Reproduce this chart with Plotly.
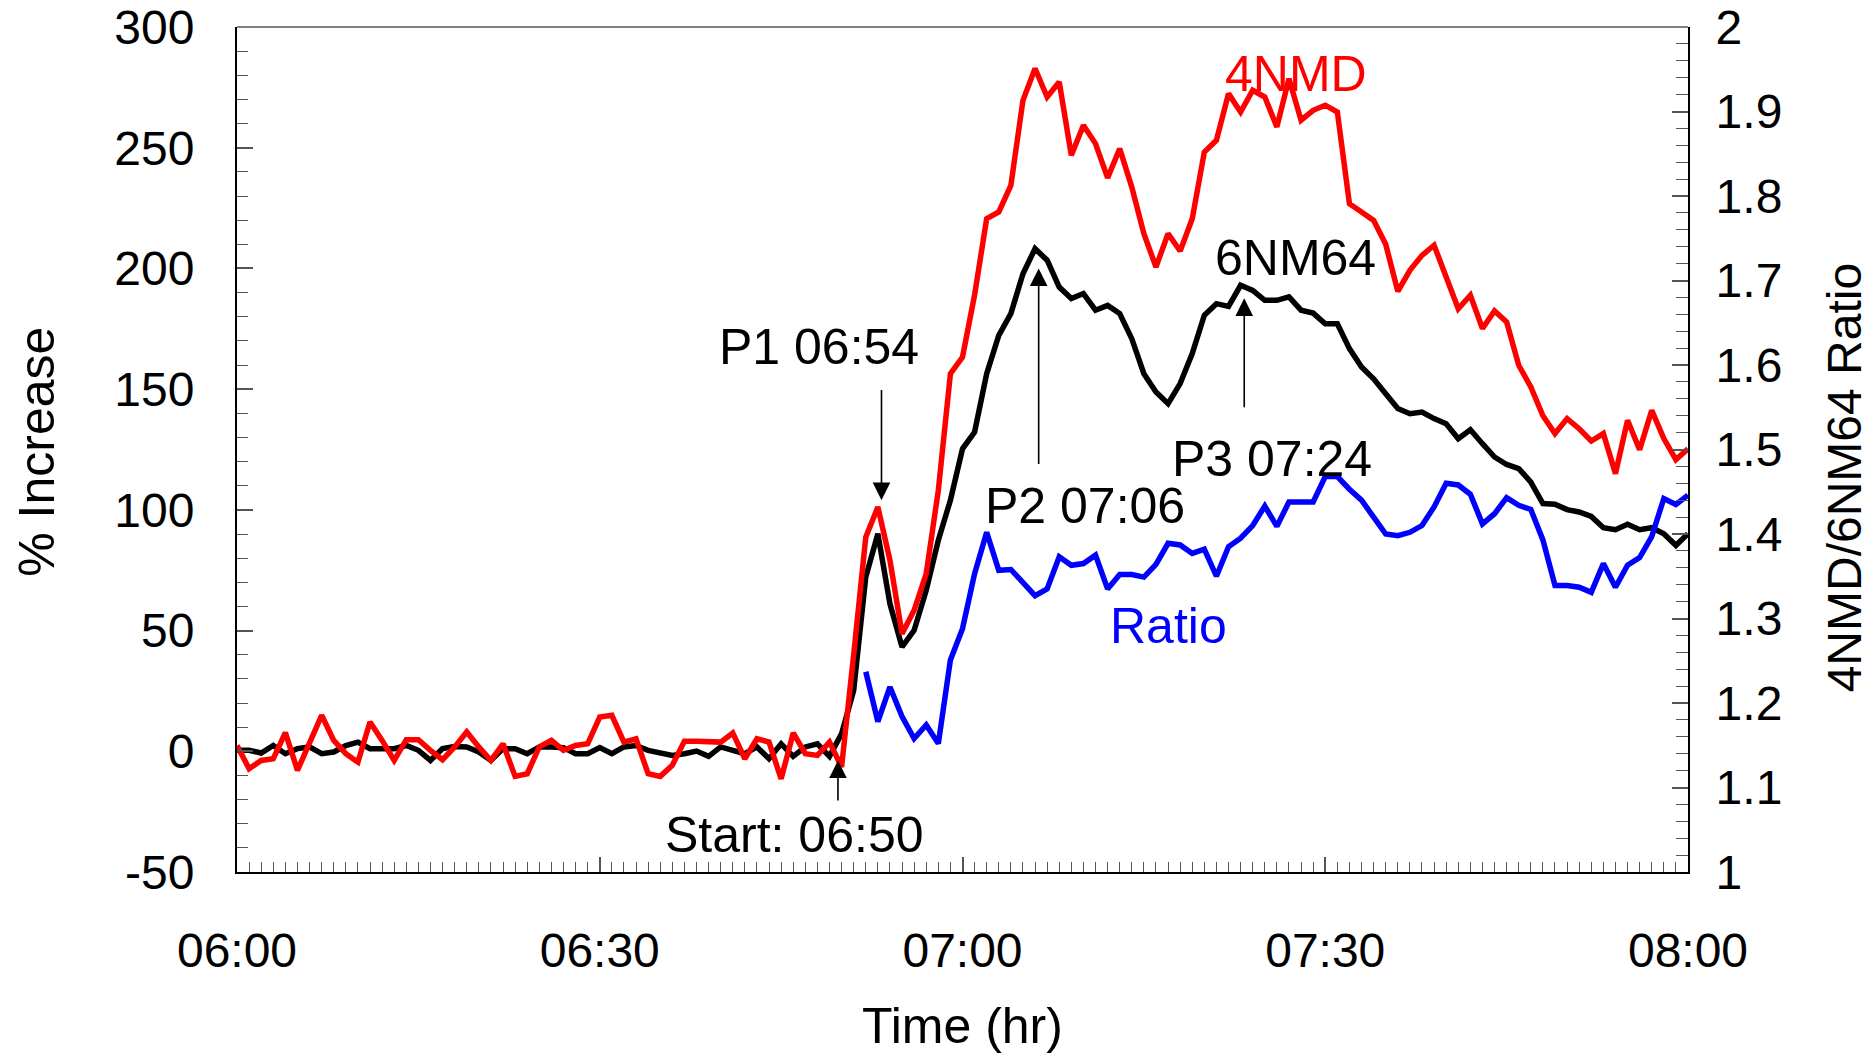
import pandas as pd
import plotly.graph_objects as go

# ---- data (one reading per minute, 06:00 - 08:00) ----
start_time = pd.Timestamp("2000-01-01 06:00")
times = [start_time + pd.Timedelta(minutes=m) for m in range(121)]

# 6NM64 % increase
nm64 = [
    0.4, 0.4, -0.7, 2.4, -1.0, 1.1, 1.8, -1.0, -0.3, 2.4,
    3.8, 1.1, 1.1, 1.1, 2.4, 0.4, -3.8, 1.1, 2.0, 1.8,
    -0.3, -3.8, 1.1, 1.1, -1.0, 1.8, 1.8, 1.5, -1.0, -1.0,
    1.5, -1.0, 1.8, 2.4, 0.4, -0.7, -1.7, -1.0, 0.1, -2.1,
    1.8, 0.4, -1.0, 1.8, -3.1, 3.1, -2.1, 1.8, 3.1, -2.1,
    7.3, 25.2, 72.2, 90.1, 61.1, 43.2, 50.1, 66.7, 87.4, 104.0,
    125.3, 132.2, 156.4, 172.3, 181.3, 197.8, 208.2, 203.4, 192.3, 187.5,
    189.6, 182.7, 184.7, 181.3, 170.9, 156.4, 148.8, 144.0, 152.3, 164.7,
    180.6, 185.4, 184.3, 193.0, 190.9, 186.8, 186.8, 188.2, 182.7, 181.5,
    177.1, 177.1, 166.8, 159.2, 154.3, 148.1, 142.0, 139.8, 140.5, 137.8,
    135.7, 129.5, 133.2, 127.4, 121.9, 118.8, 117.1, 111.5, 102.6, 102.3,
    100.1, 99.1, 97.3, 92.6, 91.8, 94.0, 91.8, 92.6, 90.1, 85.3,
    90.1,
]

# 4NMD % increase
nmd4 = [
    2.4, -7.2, -3.8, -3.1, 7.7, -7.9, 3.5, 14.9, 4.5, -1.0,
    -4.5, 12.1, 4.5, -3.8, 4.8, 4.8, 0.4, -3.5, 1.8, 8.0,
    1.8, -3.8, 3.1, -10.4, -9.3, 1.8, 4.5, 0.4, 2.4, 3.1,
    14.2, 14.9, 3.8, 5.2, -9.3, -10.4, -5.8, 4.2, 4.2, 3.8,
    3.8, 7.6, -3.1, 5.2, 3.8, -11.4, 7.6, -1.0, -1.7, 3.8,
    -6.5, 40.0, 88.7, 101.2, 79.1, 48.7, 58.4, 73.6, 108.1, 156.4,
    163.3, 189.0, 220.6, 223.4, 234.4, 269.6, 282.8, 271.0, 277.2, 246.9,
    259.3, 251.7, 237.5, 249.6, 233.7, 214.4, 200.6, 214.4, 207.2, 220.6,
    248.2, 253.1, 272.4, 264.8, 273.8, 271.0, 258.6, 278.6, 261.4, 265.5,
    267.6, 264.8, 226.8, 223.4, 219.9, 210.0, 190.5, 199.2, 205.4, 209.6,
    196.5, 183.3, 188.9, 175.1, 182.4, 177.8, 159.9, 150.9, 139.0, 131.6,
    137.8, 133.6, 128.5, 131.6, 115.0, 137.1, 124.9, 141.2, 129.5, 120.8,
    125.3,
]

# 4NMD/6NM64 ratio, available from 06:52 onward
ratio_times = times[52:]
ratio = [
    1.237, 1.178, 1.219, 1.184, 1.158, 1.174, 1.152, 1.251,
    1.288, 1.353, 1.402, 1.357, 1.358, 1.343, 1.327, 1.335, 1.373, 1.363,
    1.365, 1.375, 1.335, 1.352, 1.352, 1.349, 1.364, 1.389, 1.387, 1.377,
    1.382, 1.350, 1.385, 1.395, 1.410, 1.433, 1.409, 1.438, 1.438, 1.438,
    1.468, 1.468, 1.453, 1.440, 1.420, 1.400, 1.398, 1.402, 1.410, 1.432,
    1.460, 1.458, 1.447, 1.412, 1.424, 1.443, 1.434, 1.429, 1.393, 1.339,
    1.339, 1.337, 1.331, 1.365, 1.337, 1.363, 1.372, 1.397, 1.442, 1.435,
    1.446,
]

left_ticks = [-50, 0, 50, 100, 150, 200, 250, 300]
left_labels = ["-50", "0", "50", "100", "150", "200", "250", "300"]
right_ticks = [1.0, 1.1, 1.2, 1.3, 1.4, 1.5, 1.6, 1.7, 1.8, 1.9, 2.0]
right_labels = ["1", "1.1", "1.2", "1.3", "1.4", "1.5", "1.6", "1.7", "1.8", "1.9", "2"]

FONT = "Liberation Sans, Arial, sans-serif"
LINE_W = 5.5


def t(m):
    return start_time + pd.Timedelta(minutes=m)


fig = go.Figure()
fig.add_trace(go.Scatter(x=times, y=nm64, mode="lines", name="6NM64",
                         line=dict(color="#000000", width=LINE_W)))
fig.add_trace(go.Scatter(x=times, y=nmd4, mode="lines", name="4NMD",
                         line=dict(color="#ff0000", width=LINE_W)))
fig.add_trace(go.Scatter(x=ratio_times, y=ratio, mode="lines", name="Ratio",
                         yaxis="y2", line=dict(color="#0000ff", width=LINE_W)))

annotations = []

# text labels on the chart
labels = [
    ("4NMD", 87.6, 280.5, "#ff0000"),
    ("6NM64", 87.5, 204.5, "#000000"),
    ("P1 06:54", 48.1, 167.5, "#000000"),
    ("P2 07:06", 70.1, 101.5, "#000000"),
    ("P3 07:24", 85.6, 121.0, "#000000"),
    ("Ratio", 77.0, 52.0, "#0000ff"),
    ("Start: 06:50", 46.1, -34.5, "#000000"),
]
for txt, m, v, col in labels:
    annotations.append(dict(x=t(m), y=v, xref="x", yref="y", text=txt,
                            showarrow=False, font=dict(family=FONT, size=50, color=col),
                            xanchor="center", yanchor="middle"))

# arrows: (minute, tip value, tail value)
arrows = [
    (53.3, 104.0, 150.3),
    (66.3, 200.0, 118.4),
    (83.3, 187.6, 141.9),
    (49.7, -3.8, -21.0),
]
for m, tip, tail in arrows:
    annotations.append(dict(x=t(m), y=tip, ax=t(m), ay=tail, xref="x", yref="y",
                            axref="x", ayref="y", text="", showarrow=True,
                            arrowhead=2, arrowsize=2.2, arrowwidth=1.6,
                            arrowcolor="#000000"))

# axis titles
annotations += [
    dict(x=0.5, y=-0.182, xref="paper", yref="paper", text="Time (hr)",
         showarrow=False, font=dict(family=FONT, size=50, color="#000000"),
         xanchor="center", yanchor="middle"),
    dict(x=-0.138, y=0.497, xref="paper", yref="paper", text="% Increase",
         textangle=-90, showarrow=False,
         font=dict(family=FONT, size=50, color="#000000"),
         xanchor="center", yanchor="middle"),
    dict(x=1.1075, y=0.467, xref="paper", yref="paper", text="4NMD/6NM64 Ratio",
         textangle=-90, showarrow=False,
         font=dict(family=FONT, size=48, color="#000000"),
         xanchor="center", yanchor="middle"),
]

TICK_FONT = dict(family=FONT, size=48)

fig.update_layout(
    width=1871, height=1056,
    margin=dict(l=237, r=183, t=27, b=184, pad=0, autoexpand=False),
    paper_bgcolor="#ffffff", plot_bgcolor="#ffffff",
    showlegend=False, hovermode=False,
    font=dict(family=FONT, size=48, color="#000000"),
    annotations=annotations,
    shapes=[dict(type="line", xref="paper", yref="paper", x0=0, x1=1, y0=1, y1=1,
                 line=dict(color="#808080", width=2))],
    xaxis=dict(
        type="date", range=[t(0), t(120)], automargin=False,
        tickformat="%H:%M", dtick=1800000, tick0=t(0),
        showgrid=False, zeroline=False,
        showline=True, linecolor="#000000", linewidth=2,
        ticks="inside", ticklen=15, tickwidth=1.5, tickcolor="#555555",
        minor=dict(dtick=60000, ticks="inside", ticklen=10, tickwidth=1.2,
                   tickcolor="#555555", showgrid=False),
        tickfont=TICK_FONT, ticklabelstandoff=35,
    ),
    yaxis=dict(
        range=[-50, 300], tickvals=left_ticks, ticktext=left_labels,
        automargin=False,
        showgrid=False, zeroline=False,
        showline=True, linecolor="#000000", linewidth=2,
        ticks="inside", ticklen=16, tickwidth=1.5, tickcolor="#555555",
        minor=dict(dtick=10, ticks="inside", ticklen=11, tickwidth=1.2,
                   tickcolor="#555555", showgrid=False),
        tickfont=TICK_FONT, ticklabelstandoff=31,
    ),
    yaxis2=dict(
        range=[1, 2], tickvals=right_ticks, ticktext=right_labels,
        overlaying="y", side="right", automargin=False,
        showgrid=False, zeroline=False,
        showline=True, linecolor="#000000", linewidth=2,
        ticks="inside", ticklen=16, tickwidth=1.5, tickcolor="#555555",
        minor=dict(dtick=0.02, ticks="inside", ticklen=12, tickwidth=1.2,
                   tickcolor="#555555", showgrid=False),
        tickfont=TICK_FONT, ticklabelstandoff=16,
    ),
)

fig.write_html("out.html")
